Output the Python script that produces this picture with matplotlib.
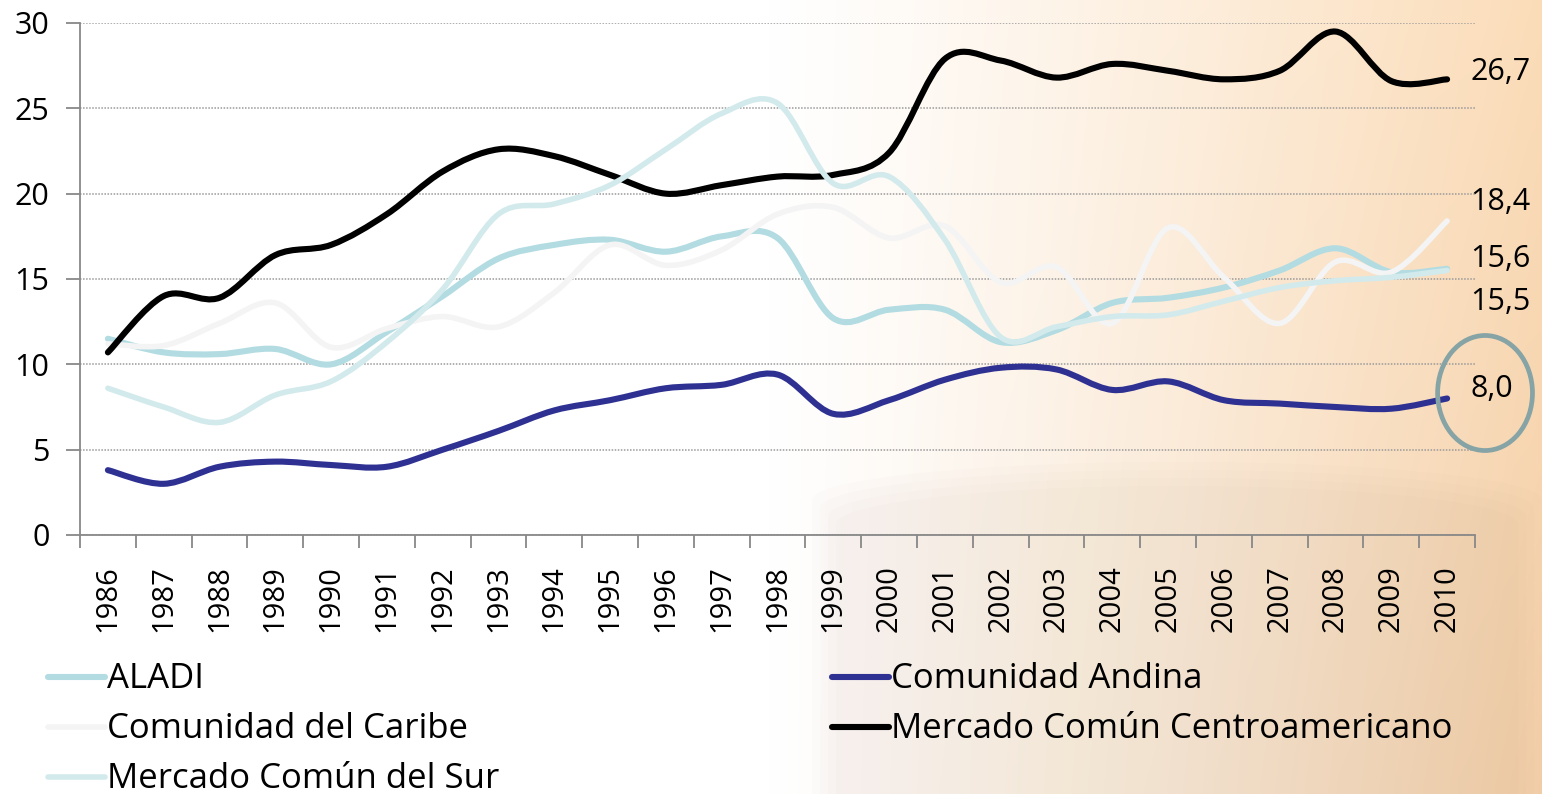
import matplotlib
matplotlib.use('Agg')
import matplotlib.pyplot as plt
import numpy as np
from matplotlib.path import Path
from matplotlib.patches import PathPatch, Ellipse, Polygon
from matplotlib.lines import Line2D

plt.rcParams['font.family'] = ['Open Sans', 'DejaVu Sans']

# --- data (share in %) ---
years = [str(y) for y in range(1986, 2011)]

aladi = [11.5, 10.7, 10.6, 10.9, 10.0, 11.9, 14.0, 16.2, 17.0, 17.3, 16.6, 17.5, 17.4,
         12.7, 13.2, 13.2, 11.3, 12.0, 13.6, 13.9, 14.5, 15.5, 16.8, 15.4, 15.6]
andina = [3.8, 3.0, 4.0, 4.3, 4.1, 4.0, 5.0, 6.1, 7.3, 7.9, 8.6, 8.8, 9.4,
          7.1, 7.9, 9.1, 9.8, 9.7, 8.5, 9.0, 7.9, 7.7, 7.5, 7.4, 8.0]
caribe = [11.2, 11.1, 12.4, 13.6, 11.0, 12.1, 12.8, 12.2, 14.2, 17.0, 15.8, 16.7, 18.8,
          19.2, 17.4, 18.1, 14.8, 15.7, 12.4, 18.0, 15.1, 12.4, 16.0, 15.4, 18.4]
mcca = [10.7, 14.0, 13.9, 16.4, 17.0, 18.8, 21.3, 22.6, 22.2, 21.1, 20.0, 20.5, 21.0,
        21.1, 22.4, 27.9, 27.8, 26.8, 27.6, 27.2, 26.7, 27.2, 29.5, 26.6, 26.7]
mercosur = [8.6, 7.5, 6.6, 8.2, 9.0, 11.3, 14.4, 18.8, 19.4, 20.5, 22.6, 24.7, 25.3,
            20.6, 21.0, 17.3, 11.6, 12.2, 12.8, 12.9, 13.7, 14.5, 14.9, 15.1, 15.5]

series_names = ['ALADI', 'Comunidad Andina', 'Comunidad del Caribe',
                'Mercado Común Centroamericano', 'Mercado Común del Sur']
series_values = [aladi, andina, caribe, mcca, mercosur]
series_colors = ['#b2dce1', '#2e3192', '#f4f4f5', '#000000', '#d3eaec']
series_widths = [4.4, 4.4, 4.0, 4.4, 4.0]

# where the end labels sit (label layout, data units)
end_label_y = [16.2, 8.55, 19.5, 27.1, 13.65]


def smooth_path(xs, ys):
    # Excel-like smoothed line: cubic Bezier through every point
    pts = np.column_stack([xs, ys]).astype(float)
    n = len(pts)
    verts = [pts[0]]
    codes = [Path.MOVETO]
    for i in range(n - 1):
        p0 = pts[i - 1] if i > 0 else pts[i]
        p1 = pts[i]
        p2 = pts[i + 1]
        p3 = pts[i + 2] if i + 2 < n else pts[i + 1]
        verts += [p1 + (p2 - p0) / 6.0, p2 - (p3 - p1) / 6.0, p2]
        codes += [Path.CURVE4] * 3
    return Path(verts, codes)


W, H = 1542, 794
fig = plt.figure(figsize=(W / 100, H / 100), dpi=100)

# background: white fading to peach on the right, faint cylinder at bottom right
bg = fig.add_axes([0, 0, 1, 1], zorder=-10)
xx = np.linspace(0, 1, 400)
yy = np.linspace(0, 1, 60)
t = np.clip((xx - 0.5) / 0.5, 0, 1) ** 1.15
white = np.array([1.0, 1.0, 1.0])
peach_top = np.array([0.985, 0.865, 0.725])
peach_bot = np.array([0.955, 0.815, 0.665])
peach = peach_top[None, :] * (1 - yy[:, None]) + peach_bot[None, :] * yy[:, None]
img = white[None, None, :] * (1 - t[None, :, None]) + peach[:, None, :] * t[None, :, None]
bg.imshow(img, extent=[0, W, H, 0], aspect='auto', interpolation='bilinear')

# soft-edged cylinder shape, several faint layers
for grow in [0, 8, 16, 24]:
    ang = np.linspace(np.pi, 2 * np.pi, 80)
    top_x = 1177 + (365 - grow) * np.cos(ang)
    top_y = 500 + grow + 38 * np.sin(ang)
    cyl = np.column_stack([np.r_[top_x, 1177 + 365 - grow, 812 + grow],
                           np.r_[top_y, 794, 794]])
    bg.add_patch(Polygon(cyl, closed=True, color='#a08a70', alpha=0.018, lw=0))
bg.set_xlim(0, W)
bg.set_ylim(H, 0)
bg.axis('off')

ax = fig.add_axes([80 / W, 1 - 535 / H, 1395 / W, 512 / H])
ax.set_facecolor('none')

x = np.arange(len(years))
draw_order = [0, 1, 4, 2, 3]
for k in draw_order:
    patch = PathPatch(smooth_path(x, series_values[k]), fill=False,
                      edgecolor=series_colors[k], lw=series_widths[k],
                      capstyle='round', joinstyle='round', zorder=3 + k)
    ax.add_patch(patch)

# end value labels
for k in range(len(series_values)):
    v = series_values[k][-1]
    ax.annotate('{0:.1f}'.format(v).replace('.', ','), xy=(x[-1], end_label_y[k]),
                xytext=(16.5, 0), textcoords='offset points', ha='left', va='center',
                fontsize=22, color='black', annotation_clip=False)

ax.add_patch(Ellipse((24.68, 8.32), 1.70, 6.74, fill=False, edgecolor='#86a3a5',
                     lw=3.4, clip_on=False, zorder=10))

ax.set_xlim(-0.5, len(years) - 0.5)
ax.set_ylim(0, 30)
ax.set_yticks(np.arange(0, 31, 5))
ax.yaxis.grid(True, color='#9a9a9a', linestyle=(0, (1, 1.0)), lw=1.1)
ax.set_axisbelow(True)

ax.set_xticks(x)
ax.set_xticklabels(years, rotation=90, fontsize=21)
ax.set_xticks(np.arange(-0.5, len(years), 1), minor=True)
ax.tick_params(axis='x', which='major', length=0, pad=22, labelcolor='black')
ax.tick_params(axis='x', which='minor', length=9, width=1.3, color='#888888', direction='out')
ax.tick_params(axis='y', length=10, width=1.3, color='#888888', pad=12, labelsize=22,
               labelcolor='black')

for s in ['top', 'right']:
    ax.spines[s].set_visible(False)
for s in ['left', 'bottom']:
    ax.spines[s].set_color('#888888')
    ax.spines[s].set_linewidth(1.3)

# legend, two columns as in the original layout
legend_cells = [(0, 0), (1, 0), (0, 1), (1, 1), (0, 2)]
col_x = [48, 832]
row_y = [677, 727, 777]
for k, (c, r) in enumerate(legend_cells):
    y = 1 - row_y[r] / H
    x0 = col_x[c] / W
    fig.add_artist(Line2D([x0, x0 + 57 / W], [y, y], color=series_colors[k],
                          lw=series_widths[k], solid_capstyle='round',
                          transform=fig.transFigure))
    fig.text(x0 + 59 / W, 1 - (row_y[r] + 11) / H, series_names[k], fontsize=25,
             ha='left', va='baseline', color='black')

fig.savefig('out.png', dpi=100)
